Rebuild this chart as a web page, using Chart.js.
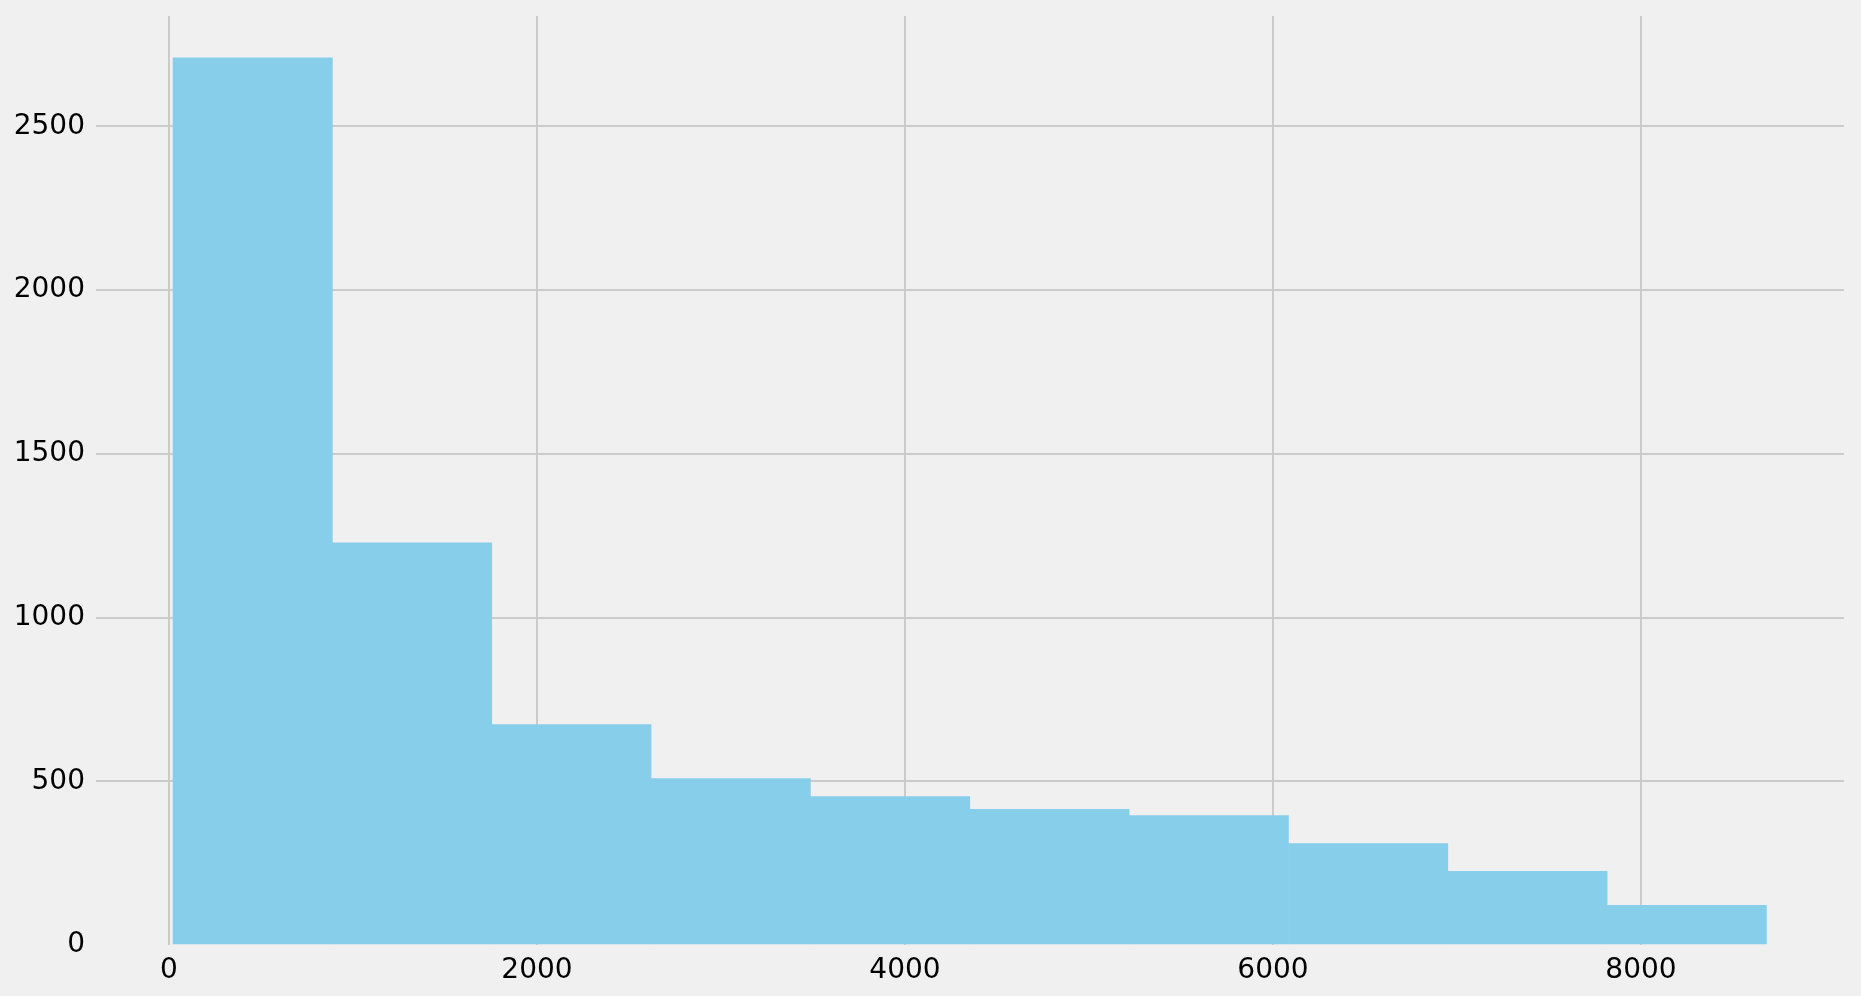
<!DOCTYPE html>
<html>
<head>
<meta charset="utf-8">
<script src="https://cdn.jsdelivr.net/npm/chart.js@4/dist/chart.umd.min.js"></script>
<style>
  html, body { margin: 0; padding: 0; background: #f0f0f0; }
  canvas { display: block; }
</style>
</head>
<body>
<canvas id="c" width="1861" height="996"></canvas>
<script>
// Histogram bin edges and counts
const binEdges = [22, 888, 1754, 2620, 3486, 4352, 5218, 6084, 6950, 7816, 8682];
const counts = [2709, 1228, 673, 508, 453, 414, 395, 310, 225, 121];
const xTickValues = [0, 2000, 4000, 6000, 8000];
const yTickValues = [0, 500, 1000, 1500, 2000, 2500];

const points = counts.map((c, i) => ({ x: (binEdges[i] + binEdges[i + 1]) / 2, y: c }));

const FONT = { family: '"DejaVu Sans", sans-serif', size: 28 };
const plain = v => String(v);

new Chart(document.getElementById('c'), {
  type: 'bar',
  data: {
    datasets: [{
      data: points,
      backgroundColor: '#87ceeb',
      borderWidth: 0,
      barPercentage: 1.0,
      categoryPercentage: 1.0
    }]
  },
  options: {
    responsive: false,
    animation: false,
    devicePixelRatio: 1,
    layout: { padding: { left: 0, top: 16, right: 17, bottom: 0 } },
    plugins: { legend: { display: false }, tooltip: { enabled: false } },
    scales: {
      x: {
        type: 'linear',
        offset: false,
        min: -396.7,
        max: 9103.3,
        afterBuildTicks: s => { s.ticks = xTickValues.map(v => ({ value: v })); },
        afterFit: s => { s.height = 51; s.paddingLeft = 0; s.paddingRight = 0; },
        grid: { color: '#cbcbcb', lineWidth: 2, drawTicks: false, offset: false },
        border: { display: false },
        ticks: { font: FONT, color: '#000', padding: 9, maxRotation: 0, callback: plain }
      },
      y: {
        min: 0,
        max: 2837,
        afterBuildTicks: s => { s.ticks = yTickValues.map(v => ({ value: v })); },
        afterFit: s => { s.width = 96; s.paddingTop = 0; s.paddingBottom = 0; },
        grid: {
          color: ctx => (ctx.tick && ctx.tick.value === 0) ? 'rgba(0,0,0,0)' : '#cbcbcb',
          lineWidth: 2,
          drawTicks: false
        },
        border: { display: false },
        ticks: { font: FONT, color: '#000', padding: 11, callback: plain }
      }
    }
  }
});
</script>
</body>
</html>
